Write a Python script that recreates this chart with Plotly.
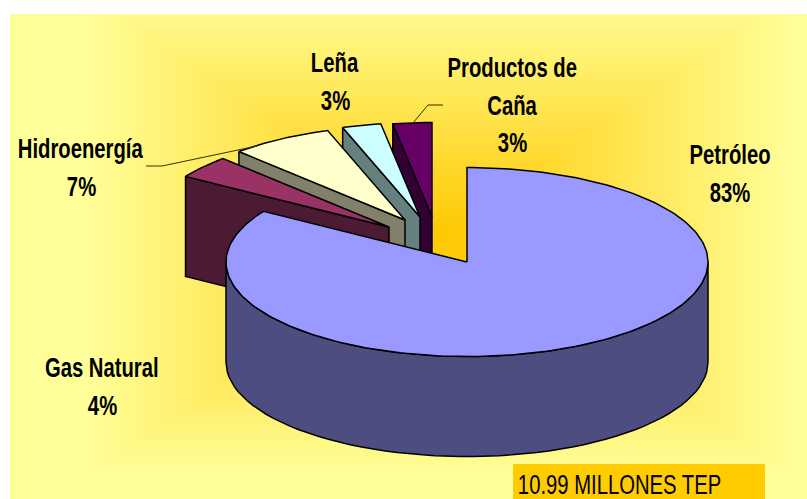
import numpy as np
import plotly.graph_objects as go

# ---- data ----
categories = ["Petróleo", "Gas Natural", "Hidroenergía", "Leña", "Productos de Caña"]
shares = [84.0, 3.9, 6.9, 2.6, 2.6]          # slice sizes
pct_labels = [83, 4, 7, 3, 3]                # printed labels
total_label = "10.99 MILLONES TEP"

# ---- style ----
top_colors = ["#9999FF", "#993366", "#FFFFCC", "#CCFFFF", "#660066"]
side_colors = ["#4D4D80", "#4D1A33", "#80806B", "#668080", "#330033"]
W, H = 807, 499
CX, CY, RX, RY, DEPTH = 467, 262, 241, 94.5, 100
explode_px = [(0, 0), (-78, -35), (-62, -42), (-47, -45), (-35, -45)]
FONT = "Liberation Sans, Arial, sans-serif"
INK = "#000000"

label_lines = {
    0: (["Petróleo"], 730, 155),
    1: (["Gas Natural"], 102, 368),
    2: (["Hidroenergía"], 81, 149),
    3: (["Leña"], 335, 63),
    4: (["Productos de", "Caña"], 512, 68),
}
LINE_STEP = 37.5


def arc(a0, a1, cx, cy, n=60):
    t = np.radians(np.linspace(a0, a1, n))
    return cx + RX * np.cos(t), cy - RY * np.sin(t)


def face(x, y, color):
    return go.Scatter(
        x=list(x), y=list(y), mode="lines", fill="toself", fillcolor=color,
        line=dict(color=INK, width=1.5), hoverinfo="skip", showlegend=False,
    )


# angles: clockwise from 12 o'clock
cum = np.concatenate([[0], np.cumsum(shares)]) / np.sum(shares) * 360
starts = 90 - cum[:-1]
ends = 90 - cum[1:]

traces = []
# exploded slices, back to front
for i in [4, 3, 2, 1]:
    a_hi, a_lo = starts[i] + 360, ends[i] + 360
    a_hi, a_lo = (a_hi % 360 or 360), (a_lo % 360)
    cx, cy = CX + explode_px[i][0], CY + explode_px[i][1]
    ax, ay = arc(a_hi, a_lo, cx, cy)
    # left radial wall (facing the viewer)
    lx, ly = cx + RX * np.cos(np.radians(a_hi)), cy - RY * np.sin(np.radians(a_hi))
    traces.append(face([lx, cx, cx, lx, lx], [ly, cy, cy + DEPTH, ly + DEPTH, ly], side_colors[i]))
    # top
    traces.append(face([cx, *ax, cx], [cy, *ay, cy], top_colors[i]))

# main slice: front wall then top
fx, fy = arc(180, 360, CX, CY)
traces.append(face([*fx, *fx[::-1], fx[0]], [*fy, *(fy[::-1] + DEPTH), fy[0]], side_colors[0]))
tx, ty = arc(90, ends[0], CX, CY, n=240)
traces.append(face([CX, *tx, CX], [CY, *ty, CY], top_colors[0]))

fig = go.Figure(traces)

# background: rectangular gradient as nested bands
shapes = []
PX0, PY0 = 10, 14
GX, GY = 440, 235
outer, inner = np.array([255, 255, 153]), np.array([255, 200, 0])
N = 70
REACH_X, REACH_Y = 355, 240
shapes.append(dict(type="rect", layer="below", line_width=0, x0=PX0, x1=W, y0=PY0, y1=H,
                   fillcolor="rgb(255,255,153)"))
for k in range(1, N):
    f = k / (N - 1)
    c = outer + (inner - outer) * f
    hw, hh = REACH_X * (1 - f) + 2, REACH_Y * (1 - f) + 2
    shapes.append(dict(
        type="rect", layer="below", line_width=0,
        x0=max(GX - hw, PX0), x1=min(GX + hw, W),
        y0=max(GY - hh, PY0), y1=min(GY + hh, H),
        fillcolor=f"rgb({c[0]:.0f},{c[1]:.0f},{c[2]:.0f})",
    ))
# box with the total
shapes.append(dict(type="rect", layer="below", line_width=0, x0=513, x1=765, y0=464, y1=H, fillcolor="#FFCC00"))
# leader lines
shapes.append(dict(type="path", path="M146,166 L162,166 L257,146", line=dict(color="#333300", width=1)))
shapes.append(dict(type="path", path="M443,105 L428,105 L413,123", line=dict(color="#333300", width=1)))

annotations = []
for i, (lines, x, y) in label_lines.items():
    for j, txt in enumerate(lines + [f"{pct_labels[i]}%"]):
        annotations.append(dict(
            x=x, y=y + j * LINE_STEP, text=txt, showarrow=False, xanchor="center", yanchor="middle",
            font=dict(family=FONT, size=27, color="#000000", weight="bold"),
        ))
annotations.append(dict(
    x=619, y=485, text=total_label, showarrow=False, xanchor="center", yanchor="middle",
    font=dict(family=FONT, size=27, color="#000000"),
))

fig.update_layout(
    width=W, height=H, margin=dict(l=0, r=0, t=0, b=0, pad=0),
    paper_bgcolor="#FFFFFF", plot_bgcolor="rgba(0,0,0,0)",
    xaxis=dict(range=[0, W], visible=False, fixedrange=True),
    yaxis=dict(range=[H, 0], visible=False, fixedrange=True),
    shapes=shapes, annotations=annotations, showlegend=False,
)
# The reference's lettering is condensed: squeeze the real text horizontally.
post = """
document.body.style.margin = '0';
document.querySelectorAll('.annotation-text').forEach(function (t) {
  var w = t.getComputedTextLength();
  t.setAttribute('lengthAdjust', 'spacingAndGlyphs');
  t.setAttribute('textLength', (w * 0.75).toFixed(1));
});
"""
fig.write_html("out.html", config=dict(displayModeBar=False), post_script=post)
